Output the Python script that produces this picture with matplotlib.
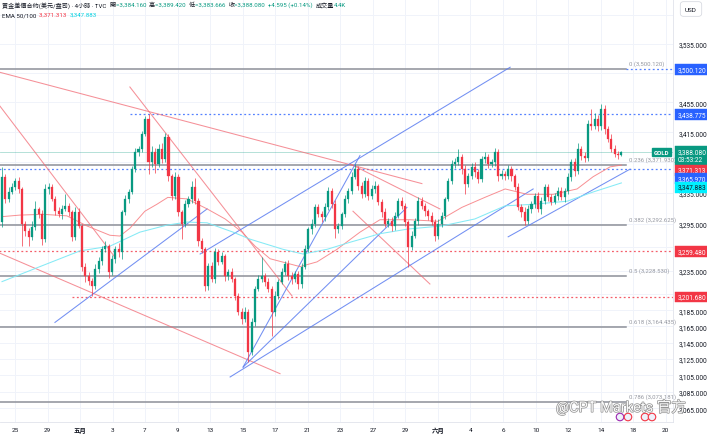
import numpy as np
import matplotlib
matplotlib.use('Agg')
import matplotlib.pyplot as plt
from matplotlib.ticker import FixedLocator, FuncFormatter, NullLocator
from matplotlib.patches import Ellipse
import matplotlib.patheffects as pe

plt.rcParams['font.family'] = ['Roboto', 'Noto Sans CJK TC', 'DejaVu Sans']

# ---------------- data ----------------
first_open = 3297.0
closes = [
    3356, 3327, 3336, 3343, 3350, 3340, 3294, 3285, 3278, 3291,
    3314, 3307, 3275, 3340, 3343, 3327, 3311, 3307, 3314, 3318,
    3310, 3278, 3310, 3292, 3240, 3228, 3222, 3216, 3237, 3247,
    3262, 3266, 3233, 3250, 3262, 3258, 3310, 3327, 3336, 3366,
    3389, 3393, 3413, 3433, 3375, 3389, 3373, 3393, 3379, 3409,
    3357, 3331, 3356, 3310, 3295, 3320, 3327, 3343, 3324, 3272,
    3262, 3216, 3241, 3224, 3258, 3246, 3253, 3228, 3233, 3224,
    3203, 3183, 3174, 3183, 3134, 3171, 3212, 3224, 3228, 3221,
    3212, 3183, 3203, 3221, 3233, 3243, 3228, 3224, 3231, 3218,
    3240, 3262, 3288, 3295, 3316, 3307, 3303, 3316, 3337, 3320,
    3288, 3292, 3307, 3327, 3337, 3356, 3366, 3344, 3333, 3350,
    3331, 3340, 3344, 3323, 3310, 3295, 3298, 3292, 3305, 3324,
    3318, 3297, 3265, 3279, 3298, 3324, 3318, 3311, 3305, 3297,
    3279, 3295, 3305, 3327, 3350, 3373, 3375, 3382, 3366, 3347,
    3357, 3369, 3362, 3353, 3379, 3382, 3373, 3375, 3389, 3357,
    3360, 3357, 3366, 3357, 3343, 3316, 3310, 3298, 3314, 3320,
    3331, 3314, 3324, 3343, 3329, 3323, 3331, 3337, 3329, 3337,
    3356, 3375, 3363, 3393, 3383, 3381, 3426, 3423, 3433, 3423,
    3446, 3419, 3406, 3393, 3386, 3384.16, 3388.08,
]
upper_wicks = [
    13, 4, 6, 5, 4, 6, 3, 5, 4, 8,
    10, 3, 5, 7, 5, 3, 4, 6, 5, 16,
    4, 3, 6, 5, 3, 4, 5, 4, 6, 5,
    4, 6, 3, 5, 4, 8, 3, 5, 4, 4,
    5, 4, 3, 4, 6, 8, 5, 6, 7, 5,
    4, 3, 6, 4, 3, 5, 4, 8, 12, 4,
    5, 3, 4, 5, 6, 4, 5, 3, 4, 5,
    3, 4, 5, 6, 4, 5, 4, 6, 24, 4,
    5, 4, 6, 3, 5, 4, 6, 5, 4, 3,
    4, 5, 3, 6, 4, 5, 4, 6, 5, 4,
    6, 4, 3, 5, 4, 6, 7, 4, 5, 6,
    4, 5, 6, 3, 4, 5, 4, 6, 5, 4,
    5, 4, 3, 6, 4, 5, 6, 4, 3, 5,
    4, 6, 5, 3, 4, 5, 6, 11, 4, 5,
    4, 5, 6, 4, 5, 6, 4, 5, 5, 4,
    5, 4, 6, 4, 3, 5, 4, 6, 5, 4,
    4, 5, 6, 4, 3, 5, 4, 6, 5, 4,
    5, 4, 6, 7, 4, 5, 6, 20, 8, 5,
    7, 5, 4, 6, 5, 4, 1.34,
]
lower_wicks = [
    7, 5, 4, 3, 4, 5, 28, 6, 12, 4,
    4, 5, 8, 4, 6, 3, 5, 4, 6, 3,
    5, 6, 4, 3, 6, 8, 5, 13, 4, 5,
    5, 4, 7, 4, 5, 6, 8, 4, 5, 3,
    4, 6, 4, 3, 15, 6, 12, 4, 5, 3,
    6, 5, 4, 5, 20, 4, 3, 5, 4, 6,
    5, 7, 6, 4, 5, 4, 3, 6, 5, 4,
    5, 4, 6, 4, 13, 4, 5, 3, 4, 6,
    4, 30, 5, 4, 3, 4, 5, 6, 4, 6,
    5, 3, 4, 6, 5, 4, 6, 4, 3, 5,
    12, 5, 4, 3, 5, 4, 3, 6, 5, 4,
    6, 4, 5, 4, 6, 5, 4, 6, 5, 3,
    4, 5, 25, 4, 3, 5, 4, 6, 5, 4,
    6, 4, 5, 4, 3, 4, 5, 4, 6, 14,
    5, 4, 6, 5, 4, 5, 6, 4, 5, 6,
    4, 5, 4, 6, 5, 4, 6, 5, 4, 5,
    5, 4, 6, 4, 5, 4, 3, 5, 4, 6,
    4, 5, 6, 4, 5, 6, 4, 5, 4, 6,
    5, 6, 4, 5, 4, 5, 0.494,
]

# EMA 50 / EMA 100 values at sample bars
ema50_bars = [0, 5.4, 12.3, 19.5, 25.5, 32.4, 35.4, 38.4, 42.9, 46.5, 49.8,
              55.6, 61.6, 67.0, 72.1, 76.0, 80.5, 89.5, 94.6, 100.6, 107.5,
              113.5, 122.5, 130.9, 138.1, 145.0, 151.1, 157.7, 165.5, 172.7,
              177.5, 182.6, 186]
ema50_vals = [3304, 3306, 3307, 3305, 3292, 3280, 3279, 3289, 3311, 3320, 3329,
              3327, 3314, 3301, 3284, 3266, 3250, 3240, 3246, 3262, 3284,
              3300, 3300, 3298, 3316, 3329, 3340, 3333, 3333, 3340,
              3356, 3369, 3371.313]
ema100_bars = [0, 11.4, 23.4, 32.4, 41.4, 49.5, 55.6, 61.6, 69.4, 74.5, 84.4,
               90.4, 97.6, 104.5, 113.5, 121.9, 132.1, 142.0, 151.1, 159.5,
               169.7, 177.5, 186]
ema100_vals = [3221, 3240, 3260, 3266, 3284, 3293, 3297, 3296, 3284, 3275, 3262,
               3256, 3262, 3271, 3282, 3288, 3292, 3301, 3318, 3320,
               3324, 3336, 3347.883]

fib_ratios = ["0", "0.236", "0.382", "0.5", "0.618", "0.786"]
fib_prices = [3500.120, 3371.930, 3292.625, 3228.530, 3164.435, 3073.181]

blue_levels = [3438.775, 3365.970]
red_levels = [3259.480, 3201.680]
last_price = 3388.080
ema50_last = 3371.313
ema100_last = 3347.883

# trend lines: (bar0, price0, bar1, price1)
red_lines = [
    (-0.6, 3496, 126.1, 3347),
    (104.5, 3373, 131.5, 3314),
    (-0.6, 3450, 33.9, 3252),
    (-0.6, 3257, 83.5, 3107),
    (38.4, 3476, 87.1, 3203),
    (105.4, 3311, 128.5, 3218),
]
blue_lines = [
    (15.9, 3170, 61.6, 3314),
    (59.5, 3256, 152.6, 3503),
    (72.4, 3115, 107.5, 3384),
    (72.4, 3115, 121.6, 3316),
    (68.5, 3103, 159.5, 3340),
    (152.0, 3278, 188.6, 3366),
]

grid_prices = [3575, 3535, 3495, 3455, 3415, 3375, 3335, 3295, 3265, 3235,
               3205, 3185, 3165, 3145, 3125, 3105, 3085, 3065]
price_ticks = [3535, 3455, 3415, 3335, 3295, 3265, 3235,
               3205, 3185, 3165, 3145, 3125, 3105, 3085, 3065]
date_labels = ["25", "29", "五月", "3", "7", "9", "13", "15", "17", "21", "23",
               "27", "29", "六月", "4", "6", "10", "12", "14", "18", "20"]

# ---------------- derived ----------------
closes = np.array(closes, dtype=float)
opens = np.concatenate([[first_open], closes[:-1]])
highs = np.maximum(opens, closes) + np.array(upper_wicks)
lows = np.minimum(opens, closes) - np.array(lower_wicks)
n = len(closes)
xs = np.arange(n)

UP = '#089981'
DN = '#f23645'
BLUE = '#2962ff'
TXT = '#131722'

W, H = 707, 439
fig = plt.figure(figsize=(W / 100, H / 100), dpi=100)
ax = fig.add_axes([0, 16 / H, 673 / W, 423 / H])
ax.set_yscale('log')
ax.set_ylim(3048.8, 3597.8)
ax.set_xlim(-0.6, 201.5)

# grid
step = 9.77
tick_pos = [3.9 + step * k for k in range(len(date_labels))]
for tp in tick_pos:
    ax.axvline(tp, color='#f0f3fa', lw=0.7, zorder=0)
for p in grid_prices:
    ax.axhline(p, color='#f0f3fa', lw=0.7, zorder=0)

# fib levels
fib_end = 187.5
for r, p in zip(fib_ratios, fib_prices):
    ax.plot([-1, fib_end], [p, p], color='#8d9099', lw=1.1, zorder=2)
    ax.text(fib_end + 0.8, p * 1.0012, f"{r} ({p:,.3f})", fontsize=4.3,
            color='#9598a1', va='bottom', ha='left', zorder=3)
ax.plot([fib_end, 202], [fib_prices[0]] * 2, color=BLUE, lw=0.9,
        ls=(0, (1.5, 2)), alpha=0.8, zorder=2)

# current price line
ax.axhline(last_price, color=UP, lw=0.6, alpha=0.35, zorder=1)

# dotted levels
ax.plot([38.5, 202], [blue_levels[0]] * 2, color=BLUE, lw=0.9, ls=(0, (1.5, 2)), alpha=0.8, zorder=2)
ax.plot([-1, 202], [blue_levels[1]] * 2, color=BLUE, lw=0.9, ls=(0, (1.5, 2)), alpha=0.8, zorder=2)
ax.plot([-1, 202], [red_levels[0]] * 2, color=DN, lw=0.9, ls=(0, (1.5, 2)), alpha=0.8, zorder=2)
ax.plot([21.0, 202], [red_levels[1]] * 2, color=DN, lw=0.9, ls=(0, (1.5, 2)), alpha=0.8, zorder=2)

# trend lines
for (x0, p0, x1, p1) in red_lines:
    ax.plot([x0, x1], [p0, p1], color='#f26b75', lw=0.75, alpha=0.75, zorder=3)
for (x0, p0, x1, p1) in blue_lines:
    ax.plot([x0, x1], [p0, p1], color='#5a7cf0', lw=0.75, alpha=0.85, zorder=3)

# EMAs
ax.plot(ema50_bars, ema50_vals, color='#f77c80', lw=0.7, alpha=0.85, zorder=4)
ax.plot(ema100_bars, ema100_vals, color='#7fe9f5', lw=0.75, alpha=0.95, zorder=4)

# candles
colors = np.where(closes >= opens, UP, DN)
ax.vlines(xs, lows, highs, colors=colors, lw=0.5, zorder=5)
body_lo = np.minimum(opens, closes)
body_hi = np.maximum(opens, closes)
ax.bar(xs, body_hi - body_lo, bottom=body_lo, width=0.62, color=colors,
       edgecolor=colors, lw=0.2, zorder=6)

# axes styling
for s in ['top', 'left']:
    ax.spines[s].set_visible(False)
ax.spines['right'].set_color('#e0e3eb')
ax.spines['bottom'].set_color('#e0e3eb')
ax.spines['right'].set_linewidth(0.6)
ax.spines['bottom'].set_linewidth(0.6)

ax.yaxis.tick_right()
ax.yaxis.set_major_locator(FixedLocator(price_ticks))
ax.yaxis.set_minor_locator(NullLocator())
ax.yaxis.set_major_formatter(FuncFormatter(lambda v, _: f"{v:,.3f}"))
ax.tick_params(axis='y', length=0, pad=4.0, labelsize=4.7, labelcolor=TXT)

ax.xaxis.set_major_locator(FixedLocator(tick_pos))
ax.set_xticklabels(date_labels)
ax.tick_params(axis='x', length=0, pad=3.5, labelsize=4.6, labelcolor=TXT)
for lbl in ax.get_xticklabels():
    if lbl.get_text() in ("五月", "六月"):
        lbl.set_fontweight('bold')

# right-side price tags
ytr = ax.get_yaxis_transform()

def tag(price, text, fc, tc='white', dy=0.0):
    ax.annotate(text, xy=(1.0, price), xycoords=ytr, xytext=(3.2, dy),
                textcoords='offset points', fontsize=4.7, color=tc,
                va='center', ha='left', annotation_clip=False, zorder=10,
                linespacing=1.1,
                bbox=dict(boxstyle='square,pad=0.3', fc=fc, ec=fc, lw=0.3))

tag(fib_prices[0], f"{fib_prices[0]:,.3f}", BLUE)
tag(blue_levels[0], f"{blue_levels[0]:,.3f}", BLUE)
tag(last_price, f"{last_price:,.3f}\n03:53:22", UP, dy=-2.3)
tag(ema50_last, f"{ema50_last:,.3f}", DN, dy=-3.6)
tag(blue_levels[1], f"{blue_levels[1]:,.3f}", BLUE, dy=-6.5)
tag(ema100_last, f"{ema100_last:,.3f}", '#00f0ff', tc='#131722', dy=-3.0)
tag(red_levels[0], f"{red_levels[0]:,.3f}", DN)
tag(red_levels[1], f"{red_levels[1]:,.3f}", DN)
ax.annotate("GOLD", xy=(1.0, last_price), xycoords=ytr, xytext=(-2.6, 0.3),
            textcoords='offset points', fontsize=4.4, color='white',
            fontweight='bold', va='center', ha='right', annotation_clip=False,
            zorder=10, bbox=dict(boxstyle='square,pad=0.3', fc=UP, ec=UP))

# USD box
fig.text(691 / W, 1 - 10 / H, "USD", fontsize=4.6, color=TXT, ha='center', va='center',
         zorder=20,
         bbox=dict(boxstyle='round,pad=0.75,rounding_size=0.5', fc='white', ec='#d1d4dc', lw=0.5))

# header (chained text pieces)
renderer = fig.canvas.get_renderer()

def chain(pieces, x_px, y_px, size):
    x = x_px
    for txt, col in pieces:
        t = fig.text(x / W, 1 - y_px / H, txt, fontsize=size, color=col,
                     ha='left', va='center')
        bb = t.get_window_extent(renderer)
        x += bb.width

chain([("黃金差價合約(美元/盎司) · 4小時 · TVC  ", TXT),
       ("開", TXT), ("=3,384.160  ", UP),
       ("高", TXT), ("=3,389.420  ", UP),
       ("低", TXT), ("=3,383.666  ", UP),
       ("收", TXT), ("=3,388.080  +4.595 (+0.14%)  ", UP),
       ("成交量", TXT), ("4.4K", UP)], 2, 5.5, 4.4)
chain([("EMA 50/100  ", TXT), ("3,371.313  ", DN), ("3,347.883", '#00d0e0')], 2, 15.5, 4.4)

# event markers near the time axis
for (px, ec) in [(620, '#9c27b0'), (628, '#f23645'), (645, '#f23645'), (652, '#f23645')]:
    fig.add_artist(Ellipse((px / W, 1 - 418 / H), 7.5 / W, 7.5 / H,
                           transform=fig.transFigure, fc='#eef1fb', ec=ec, lw=0.8, zorder=15))

# watermark
fig.text(556 / W, 1 - 408 / H, "@CPT Markets 官方", fontsize=10.5, color='white',
         ha='left', va='center', alpha=0.95, zorder=20,
         path_effects=[pe.withStroke(linewidth=1.0, foreground='#8a8a8a')])

fig.savefig('out.png', dpi=100, facecolor='white')
